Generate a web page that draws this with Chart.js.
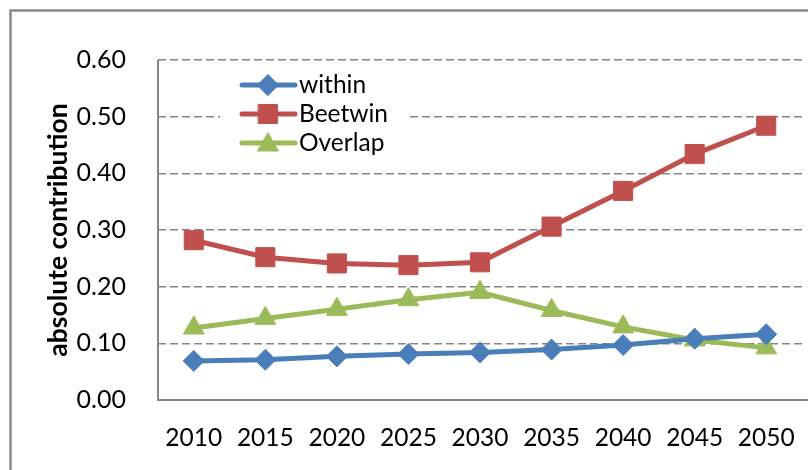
<!DOCTYPE html>
<html>
<head>
<meta charset="utf-8">
<script src="https://cdn.jsdelivr.net/npm/chart.js@4"></script>
<style>
  html, body { margin: 0; padding: 0; background: #ffffff; }
  #wrap { position: relative; width: 808px; height: 470px; }
</style>
</head>
<body>
<div id="wrap"><canvas id="chart" width="808" height="470"></canvas></div>
<script>
// Years on the horizontal axis
const years = ['2010', '2015', '2020', '2025', '2030', '2035', '2040', '2045', '2050'];

// Contribution series
const withinValues  = [0.069, 0.071, 0.077, 0.081, 0.084, 0.089, 0.097, 0.108, 0.116];
const beetwinValues = [0.282, 0.252, 0.241, 0.238, 0.243, 0.306, 0.369, 0.434, 0.484];
const overlapValues = [0.127, 0.144, 0.160, 0.177, 0.190, 0.158, 0.129, 0.106, 0.092];

// Series names
const seriesNames = ['within', 'Beetwin', 'Overlap'];

const FONT = 'Lato, "Open Sans", sans-serif';
const BLUE = '#4a7ebb';
const RED = '#c0504d';
const GREEN = '#9bbb59';
const AXIS_GREY = '#868686';

function series(label, data, color, style, radius) {
  return {
    label: label,
    data: data,
    borderColor: color,
    backgroundColor: color,
    borderWidth: 5,
    pointStyle: style,
    pointRadius: radius,
    pointHoverRadius: radius,
    pointBorderWidth: 1,
    pointBorderColor: color,
    pointBackgroundColor: color,
    tension: 0
  };
}

// Outer frame of the chart and solid axis lines
const framePlugin = {
  id: 'frame',
  beforeDraw(chart) {
    const ctx = chart.ctx;
    ctx.save();
    ctx.fillStyle = '#ffffff';
    ctx.fillRect(0, 0, chart.width, chart.height);
    ctx.strokeStyle = '#8a8a8a';
    ctx.lineWidth = 2.5;
    ctx.beginPath();
    ctx.moveTo(10.5, chart.height + 5);
    ctx.lineTo(10.5, 10.5);
    ctx.lineTo(chart.width + 5, 10.5);
    ctx.stroke();
    ctx.restore();
  },
  beforeDatasetsDraw(chart) {
    const {ctx, chartArea} = chart;
    ctx.save();
    ctx.setLineDash([]);
    ctx.strokeStyle = AXIS_GREY;
    ctx.lineWidth = 2;
    ctx.beginPath();
    ctx.moveTo(chartArea.left, chartArea.top);
    ctx.lineTo(chartArea.left, chartArea.bottom);
    ctx.lineTo(chart.width, chartArea.bottom);
    ctx.stroke();
    ctx.restore();
  }
};

// Legend drawn inside the plot area, upper left
const innerLegend = {
  id: 'innerLegend',
  afterDatasetsDraw(chart) {
    const ctx = chart.ctx;
    const items = chart.data.datasets;
    ctx.save();
    ctx.fillStyle = '#ffffff';
    ctx.fillRect(220, 68, 187, 90);
    const rowY = [85, 114, 143];
    items.forEach((ds, i) => {
      const y = rowY[i];
      ctx.strokeStyle = ds.borderColor;
      ctx.lineWidth = 5;
      ctx.lineCap = 'round';
      ctx.beginPath();
      ctx.moveTo(242, y);
      ctx.lineTo(295, y);
      ctx.stroke();
      ctx.fillStyle = ds.backgroundColor;
      ctx.strokeStyle = ds.borderColor;
      ctx.lineWidth = 1;
      const yOff = ds.pointStyle === 'triangle' ? 2 : 0;
      Chart.helpers.drawPoint(ctx, {
        pointStyle: ds.pointStyle,
        radius: ds.pointRadius,
        rotation: 0,
        borderWidth: 1
      }, 268, y + yOff);
      ctx.fillStyle = '#000000';
      ctx.font = '24.5px ' + FONT;
      ctx.textAlign = 'left';
      ctx.textBaseline = 'middle';
      ctx.fillText(ds.label, 299, y);
    });
    ctx.restore();
  }
};

new Chart(document.getElementById('chart'), {
  type: 'line',
  data: {
    labels: years,
    datasets: [
      series(seriesNames[0], withinValues, BLUE, 'rectRot', 10.5),
      series(seriesNames[1], beetwinValues, RED, 'rect', 13.5),
      series(seriesNames[2], overlapValues, GREEN, 'triangle', 12)
    ]
  },
  options: {
    responsive: false,
    animation: false,
    devicePixelRatio: 1,
    layout: {
      autoPadding: false,
      padding: { left: 0, top: 60, right: 6, bottom: 0 }
    },
    plugins: {
      legend: { display: false },
      tooltip: { enabled: false }
    },
    scales: {
      x: {
        offset: true,
        grid: { display: false, drawTicks: false },
        border: { display: false },
        ticks: {
          color: '#000000',
          font: { family: FONT, size: 24.5 },
          padding: 23,
          maxRotation: 0,
          autoSkip: false
        },
        afterFit(scale) {
          scale.height = 70;
          scale.paddingLeft = 0;
          scale.paddingRight = 0;
        }
      },
      y: {
        min: 0,
        max: 0.6,
        grid: {
          color: '#858585',
          lineWidth: 1.5,
          drawTicks: false
        },
        border: { display: false, dash: [8, 4] },
        ticks: {
          stepSize: 0.1,
          color: '#000000',
          font: { family: FONT, size: 25 },
          padding: 32,
          callback: (v) => Number(v).toFixed(2)
        },
        title: {
          display: true,
          text: 'absolute contribution',
          color: '#000000',
          font: { family: FONT, size: 26.5, weight: 'bold' },
          padding: { top: 43, bottom: 0 }
        },
        afterFit(scale) {
          scale.width = 158;
          scale.paddingTop = 0;
          scale.paddingBottom = 0;
        }
      }
    }
  },
  plugins: [framePlugin, innerLegend]
});
</script>
</body>
</html>
